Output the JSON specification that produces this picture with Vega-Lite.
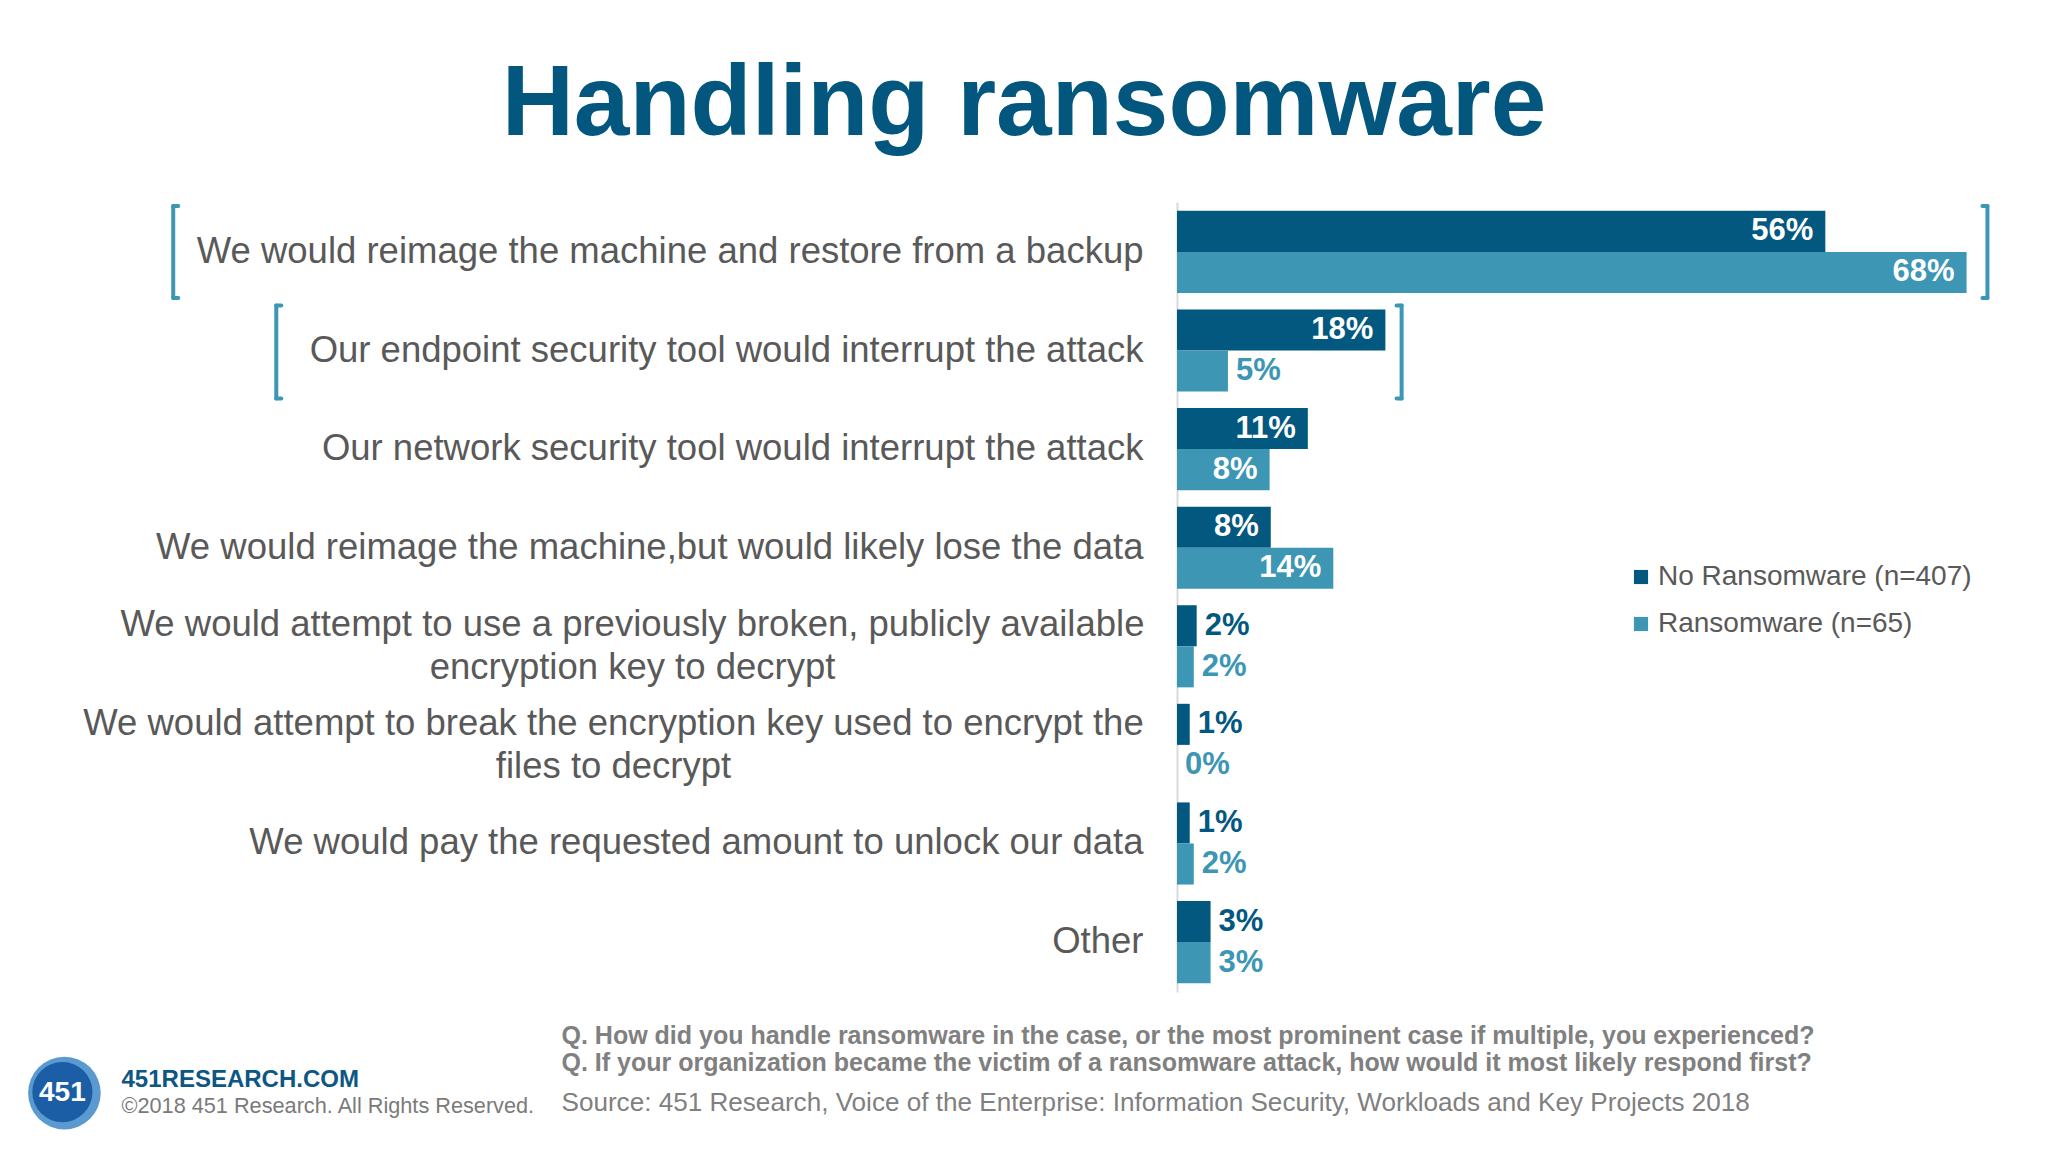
{
  "$schema": "https://vega.github.io/schema/vega-lite/v6.json",
  "autosize": {"type": "none"},
  "width": 822,
  "height": 790,
  "padding": {"left": 1177, "top": 202, "right": 49, "bottom": 160},
  "background": "white",
  "config": {
    "view": {"stroke": null},
    "font": "Liberation Sans"
  },
  "title": {
    "text": "Handling ransomware",
    "anchor": "middle",
    "frame": "group",
    "dx": -564,
    "dy": 102,
    "offset": 69,
    "baseline": "alphabetic",
    "font": "Liberation Sans",
    "fontSize": 100,
    "fontWeight": "bold",
    "color": "#03577f"
  },
  "datasets": {
    "resp": [
      {"response": "We would reimage the machine and restore from a backup", "group": "No Ransomware (n=407)", "pct": 56.0, "label": "56%"},
      {"response": "We would reimage the machine and restore from a backup", "group": "Ransomware (n=65)", "pct": 68.2, "label": "68%"},
      {"response": "Our endpoint security tool would interrupt the attack", "group": "No Ransomware (n=407)", "pct": 18.0, "label": "18%"},
      {"response": "Our endpoint security tool would interrupt the attack", "group": "Ransomware (n=65)", "pct": 4.4, "label": "5%"},
      {"response": "Our network security tool would interrupt the attack", "group": "No Ransomware (n=407)", "pct": 11.3, "label": "11%"},
      {"response": "Our network security tool would interrupt the attack", "group": "Ransomware (n=65)", "pct": 8.0, "label": "8%"},
      {"response": "We would reimage the machine,but would likely lose the data", "group": "No Ransomware (n=407)", "pct": 8.1, "label": "8%"},
      {"response": "We would reimage the machine,but would likely lose the data", "group": "Ransomware (n=65)", "pct": 13.5, "label": "14%"},
      {"response": "We would attempt to use a previously broken, publicly available\nencryption key to decrypt", "group": "No Ransomware (n=407)", "pct": 1.7, "label": "2%"},
      {"response": "We would attempt to use a previously broken, publicly available\nencryption key to decrypt", "group": "Ransomware (n=65)", "pct": 1.45, "label": "2%"},
      {"response": "We would attempt to break the encryption key used to encrypt the\nfiles to decrypt", "group": "No Ransomware (n=407)", "pct": 1.1, "label": "1%"},
      {"response": "We would attempt to break the encryption key used to encrypt the\nfiles to decrypt", "group": "Ransomware (n=65)", "pct": 0, "label": "0%"},
      {"response": "We would pay the requested amount to unlock our data", "group": "No Ransomware (n=407)", "pct": 1.1, "label": "1%"},
      {"response": "We would pay the requested amount to unlock our data", "group": "Ransomware (n=65)", "pct": 1.45, "label": "2%"},
      {"response": "Other", "group": "No Ransomware (n=407)", "pct": 2.9, "label": "3%"},
      {"response": "Other", "group": "Ransomware (n=65)", "pct": 2.9, "label": "3%"}
    ],
    "one": [{"logo": "451"}]
  },
  "data": {"name": "resp"},
  "resolve": {"axis": {"x": "independent", "y": "independent"}},
  "layer": [
    {
      "mark": {"type": "bar"},
      "encoding": {
        "x": {
          "field": "pct", "type": "quantitative",
          "scale": {"domain": [0, 71], "nice": false, "zero": true},
          "axis": {
            "orient": "bottom",
            "title": ["Q. How did you handle ransomware in the case, or the most prominent case if multiple, you experienced?", "Q. If your organization became the victim of a ransomware attack, how would it most likely respond first?"],
            "labels": false, "ticks": false, "domain": false, "grid": false,
            "titleX": -616, "titleY": 51, "titleAlign": "left", "titleAnchor": "start",
            "titleBaseline": "alphabetic", "titleAngle": 0,
            "titleFont": "Liberation Sans", "titleFontSize": 25, "titleFontWeight": "bold",
            "titleColor": "#808080", "titleLineHeight": 27
          }
        },
        "y": {
          "field": "response", "type": "nominal",
          "sort": null,
          "scale": {
            "domain": [
              "We would reimage the machine and restore from a backup",
              "Our endpoint security tool would interrupt the attack",
              "Our network security tool would interrupt the attack",
              "We would reimage the machine,but would likely lose the data",
              "We would attempt to use a previously broken, publicly available\nencryption key to decrypt",
              "We would attempt to break the encryption key used to encrypt the\nfiles to decrypt",
              "We would pay the requested amount to unlock our data",
              "Other"
            ],
            "paddingInner": 0.167, "paddingOuter": 0.09
          },
          "axis": {
            "orient": "left",
            "labelExpr": "split(datum.label, '\\n')",
            "labelFont": "Liberation Sans", "labelFontSize": 36.5, "labelColor": "#595959",
            "labelLimit": 1200, "labelLineHeight": 43,
            "labelBaseline": "middle",
            "labelAlign": {"condition": {"test": "indexof(datum.value, '\\n') >= 0", "value": "center"}, "value": "right"},
            "labelOffset": {"condition": {"test": "indexof(datum.value, '\\n') >= 0", "value": -21}, "value": 0},
            "labelPadding": {"condition": [
              {"test": "indexof(datum.value, 'publicly') >= 0", "value": 545},
              {"test": "indexof(datum.value, 'files to') >= 0", "value": 564}
            ], "value": 34},
            "ticks": false, "tickSize": 0, "grid": false,
            "domainColor": "#d9d9d9", "domainWidth": 2,
            "title": "©2018 451 Research. All Rights Reserved.",
            "titleX": -1056, "titleY": 910, "titleAngle": 0, "titleAlign": "left",
            "titleBaseline": "alphabetic", "titleFont": "Liberation Sans",
            "titleFontSize": 21.7, "titleFontWeight": "normal", "titleColor": "#7a7a7a"
          }
        },
        "yOffset": {
          "field": "group", "type": "nominal",
          "scale": {"domain": ["No Ransomware (n=407)", "Ransomware (n=65)"], "paddingInner": 0, "paddingOuter": 0}
        },
        "color": {
          "field": "group", "type": "nominal",
          "scale": {"domain": ["No Ransomware (n=407)", "Ransomware (n=65)"], "range": ["#03587f", "#3c96b4"]},
          "legend": {
            "title": null, "orient": "none", "legendX": 450, "legendY": 361,
            "symbolType": "square", "symbolSize": 200, "symbolStrokeWidth": 0,
            "labelFont": "Liberation Sans", "labelFontSize": 28, "labelColor": "#595959",
            "rowPadding": 19, "labelOffset": 3, "labelLimit": 600
          }
        }
      }
    },
    {
      "transform": [{"filter": "datum.pct >= 7"}],
      "mark": {"type": "text", "align": "right", "baseline": "middle", "dx": -12, "font": "Liberation Sans", "fontSize": 31, "fontWeight": "bold", "color": "white"},
      "encoding": {
        "x": {
          "field": "pct", "type": "quantitative",
          "axis": {
            "orient": "top",
            "title": "Source: 451 Research, Voice of the Enterprise: Information Security, Workloads and Key Projects 2018",
            "labels": false, "ticks": false, "domain": false, "grid": false,
            "titleX": -616, "titleY": 908, "titleAlign": "left", "titleAnchor": "start",
            "titleBaseline": "alphabetic", "titleAngle": 0,
            "titleFont": "Liberation Sans", "titleFontSize": 26.1, "titleFontWeight": "normal",
            "titleColor": "#808080"
          }
        },
        "y": {
          "field": "response", "type": "nominal",
          "axis": {
            "orient": "right",
            "title": "451RESEARCH.COM",
            "labels": false, "ticks": false, "domain": false, "grid": false,
            "titleX": -1878, "titleY": 884, "titleAlign": "left",
            "titleBaseline": "alphabetic", "titleAngle": 0,
            "titleFont": "Liberation Sans", "titleFontSize": 24, "titleFontWeight": "bold",
            "titleColor": "#0d5784"
          }
        },
        "yOffset": {"field": "group", "type": "nominal"},
        "text": {"field": "label"}
      }
    },
    {
      "transform": [{"filter": "datum.pct < 7"}],
      "mark": {"type": "text", "align": "left", "baseline": "middle", "dx": 8, "font": "Liberation Sans", "fontSize": 31, "fontWeight": "bold"},
      "encoding": {
        "x": {"field": "pct", "type": "quantitative", "axis": null},
        "y": {"field": "response", "type": "nominal", "axis": null},
        "yOffset": {"field": "group", "type": "nominal"},
        "color": {"field": "group", "type": "nominal", "legend": null},
        "text": {"field": "label"}
      }
    },
    {
      "data": {"name": "one"},
      "encoding": {
        "x": {"datum": -86.7, "type": "quantitative", "axis": null},
        "y": {"datum": "We would reimage the machine and restore from a backup", "type": "nominal", "axis": null}
      },
      "layer": [
        {"mark": {"type": "rule", "color": "#3c96b4", "strokeWidth": 4, "strokeCap": "round", "yOffset": -46, "y2Offset": 46}, "encoding": {"y2": {"datum": "We would reimage the machine and restore from a backup"}}},
        {"mark": {"type": "rule", "color": "#3c96b4", "strokeWidth": 4, "strokeCap": "round", "yOffset": -46, "x2Offset": 5}, "encoding": {"x2": {"datum": -86.7}}},
        {"mark": {"type": "rule", "color": "#3c96b4", "strokeWidth": 4, "strokeCap": "round", "yOffset": 46, "x2Offset": 5}, "encoding": {"x2": {"datum": -86.7}}}
      ]
    },
    {
      "data": {"name": "one"},
      "encoding": {
        "x": {"datum": -77.8, "type": "quantitative", "axis": null},
        "y": {"datum": "Our endpoint security tool would interrupt the attack", "type": "nominal", "axis": null}
      },
      "layer": [
        {"mark": {"type": "rule", "color": "#3c96b4", "strokeWidth": 4, "strokeCap": "round", "yOffset": -45, "y2Offset": 48}, "encoding": {"y2": {"datum": "Our endpoint security tool would interrupt the attack"}}},
        {"mark": {"type": "rule", "color": "#3c96b4", "strokeWidth": 4, "strokeCap": "round", "yOffset": -45, "x2Offset": 5}, "encoding": {"x2": {"datum": -77.8}}},
        {"mark": {"type": "rule", "color": "#3c96b4", "strokeWidth": 4, "strokeCap": "round", "yOffset": 48, "x2Offset": 5}, "encoding": {"x2": {"datum": -77.8}}}
      ]
    },
    {
      "data": {"name": "one"},
      "encoding": {
        "x": {"datum": 70.0, "type": "quantitative", "axis": null},
        "y": {"datum": "We would reimage the machine and restore from a backup", "type": "nominal", "axis": null}
      },
      "layer": [
        {"mark": {"type": "rule", "color": "#3c96b4", "strokeWidth": 4, "strokeCap": "round", "yOffset": -46, "y2Offset": 46}, "encoding": {"y2": {"datum": "We would reimage the machine and restore from a backup"}}},
        {"mark": {"type": "rule", "color": "#3c96b4", "strokeWidth": 4, "strokeCap": "round", "yOffset": -46, "x2Offset": -5}, "encoding": {"x2": {"datum": 70.0}}},
        {"mark": {"type": "rule", "color": "#3c96b4", "strokeWidth": 4, "strokeCap": "round", "yOffset": 46, "x2Offset": -5}, "encoding": {"x2": {"datum": 70.0}}}
      ]
    },
    {
      "data": {"name": "one"},
      "encoding": {
        "x": {"datum": 19.4, "type": "quantitative", "axis": null},
        "y": {"datum": "Our endpoint security tool would interrupt the attack", "type": "nominal", "axis": null}
      },
      "layer": [
        {"mark": {"type": "rule", "color": "#3c96b4", "strokeWidth": 4, "strokeCap": "round", "yOffset": -45, "y2Offset": 48}, "encoding": {"y2": {"datum": "Our endpoint security tool would interrupt the attack"}}},
        {"mark": {"type": "rule", "color": "#3c96b4", "strokeWidth": 4, "strokeCap": "round", "yOffset": -45, "x2Offset": -5}, "encoding": {"x2": {"datum": 19.4}}},
        {"mark": {"type": "rule", "color": "#3c96b4", "strokeWidth": 4, "strokeCap": "round", "yOffset": 48, "x2Offset": -5}, "encoding": {"x2": {"datum": 19.4}}}
      ]
    },
    {
      "data": {"name": "one"},
      "encoding": {
        "x": {"datum": -96.1, "type": "quantitative", "axis": null},
        "y": {"datum": "Other", "type": "nominal", "axis": null}
      },
      "layer": [
        {"mark": {"type": "point", "filled": true, "shape": "circle", "size": 5280, "color": "#5b9ad1", "opacity": 1, "yOffset": 151}},
        {"mark": {"type": "point", "filled": true, "shape": "circle", "size": 3630, "color": "#1c5ea6", "opacity": 1, "yOffset": 150, "xOffset": -2}},
        {"mark": {"type": "text", "align": "center", "baseline": "middle", "font": "Liberation Sans", "fontSize": 28, "fontWeight": "bold", "color": "white", "yOffset": 151, "xOffset": -2}, "encoding": {"text": {"field": "logo"}}}
      ]
    }
  ]
}
